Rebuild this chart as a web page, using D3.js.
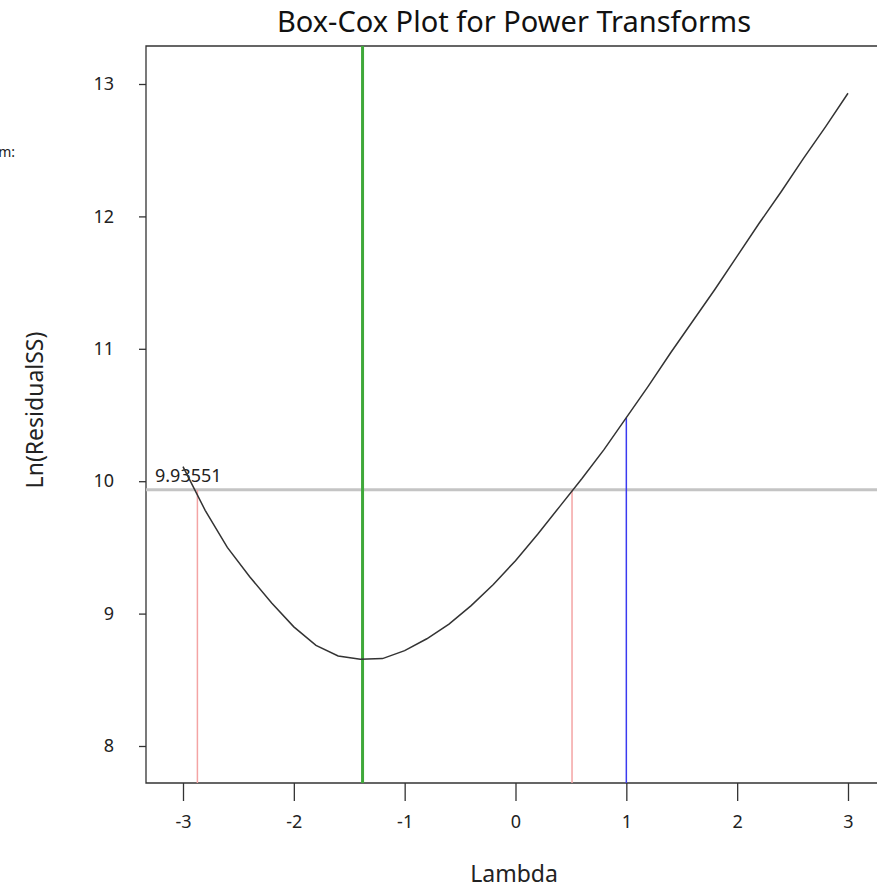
<!DOCTYPE html>
<html><head><meta charset="utf-8">
<script src="https://cdn.jsdelivr.net/npm/d3@7"></script>
<style>body{margin:0;background:#fff}svg{display:block}text{font-family:"Noto Sans","Open Sans",sans-serif}</style>
</head><body>
<script>
const lambdas = [-3.0,-2.8,-2.6,-2.4,-2.2,-2.0,-1.8,-1.6,-1.4,-1.2,-1.0,-0.8,-0.6,-0.4,-0.2,0.0,0.2,0.4,0.6,0.8,1.0,1.2,1.4,1.6,1.8,2.0,2.2,2.4,2.6,2.8,3.0];
const lnRSS = [10.11,9.78,9.50,9.28,9.08,8.90,8.76,8.68,8.655,8.66,8.72,8.81,8.92,9.06,9.22,9.40,9.60,9.81,10.02,10.24,10.48,10.72,10.97,11.21,11.45,11.70,11.95,12.19,12.44,12.68,12.93];
const xTicks = [-3,-2,-1,0,1,2,3];
const yTicks = [8,9,10,11,12,13];
const optLambda = -1.38;
const ciLambdas = [-2.87, 0.51];
const refLambda = 1;
const refValue = 10.48;
const threshold = 9.93551;
const thresholdLabel = "9.93551";

(function(){
const W = 877, H = 886;
const svg = d3.select("body").append("svg").attr("width", W).attr("height", H);
const x = d3.scaleLinear().domain([-3, 3]).range([183, 848]);
const y = d3.scaleLinear().domain([8, 13]).range([746, 84]);
const pL = 146, pT = 46, pB = 783, pR = W;

svg.append("path").attr("d", `M${pR},${pT}H${pL}V${pB}H${pR}`)
  .attr("fill","none").attr("stroke","#333").attr("stroke-width",1.3);

const fmt = d => String(d);
const xa = svg.append("g").attr("transform",`translate(0,${pB})`)
  .call(d3.axisBottom(x).tickValues(xTicks).tickSize(18).tickPadding(14).tickFormat(fmt));
xa.select(".domain").remove();
xa.selectAll("line").attr("stroke","#333").attr("stroke-width",1.3);
xa.selectAll("text").attr("font-size",18).attr("fill","#222");

const ya = svg.append("g").attr("transform",`translate(${pL},0)`)
  .call(d3.axisLeft(y).tickValues(yTicks).tickSize(7).tickPadding(25).tickFormat(fmt));
ya.select(".domain").remove();
ya.selectAll("line").attr("stroke","#333").attr("stroke-width",1.3);
ya.selectAll("text").attr("font-size",18).attr("fill","#222");
svg.selectAll("g").attr("font-family",null).attr("font-size",null);

svg.append("line").attr("x1",pL).attr("x2",pR).attr("y1",y(threshold)).attr("y2",y(threshold))
  .attr("stroke","#c4c4c4").attr("stroke-width",3);
svg.append("text").attr("x",155).attr("y",y(threshold)-8).attr("font-size",18).attr("fill","#222").text(thresholdLabel);

ciLambdas.forEach(l => svg.append("line").attr("x1",x(l)).attr("x2",x(l)).attr("y1",y(threshold)).attr("y2",pB)
  .attr("stroke","#f4a4a4").attr("stroke-width",1.5));
svg.append("line").attr("x1",x(refLambda)).attr("x2",x(refLambda)).attr("y1",y(refValue)).attr("y2",pB)
  .attr("stroke","#3a3af0").attr("stroke-width",1.5);
svg.append("line").attr("x1",x(optLambda)).attr("x2",x(optLambda)).attr("y1",pT).attr("y2",pB)
  .attr("stroke","#3fa83a").attr("stroke-width",3);

const line = d3.line().x((d,i)=>x(lambdas[i])).y(d=>y(d));
svg.append("path").datum(lnRSS).attr("d",line).attr("fill","none").attr("stroke","#333").attr("stroke-width",1.5);

svg.append("text").attr("x",514).attr("y",32).attr("text-anchor","middle").attr("font-size",29).attr("fill","#111").text("Box-Cox Plot for Power Transforms");
svg.append("text").attr("x",514).attr("y",882).attr("text-anchor","middle").attr("font-size",23).attr("fill","#222").text("Lambda");
svg.append("text").attr("transform","translate(43,410) rotate(-90)").attr("text-anchor","middle").attr("font-size",23).attr("fill","#222").text("Ln(ResidualSS)");
svg.append("text").attr("x",15).attr("y",157).attr("text-anchor","end").attr("font-size",14).attr("fill","#222").text("Transform:");
})();
</script>
</body></html>
